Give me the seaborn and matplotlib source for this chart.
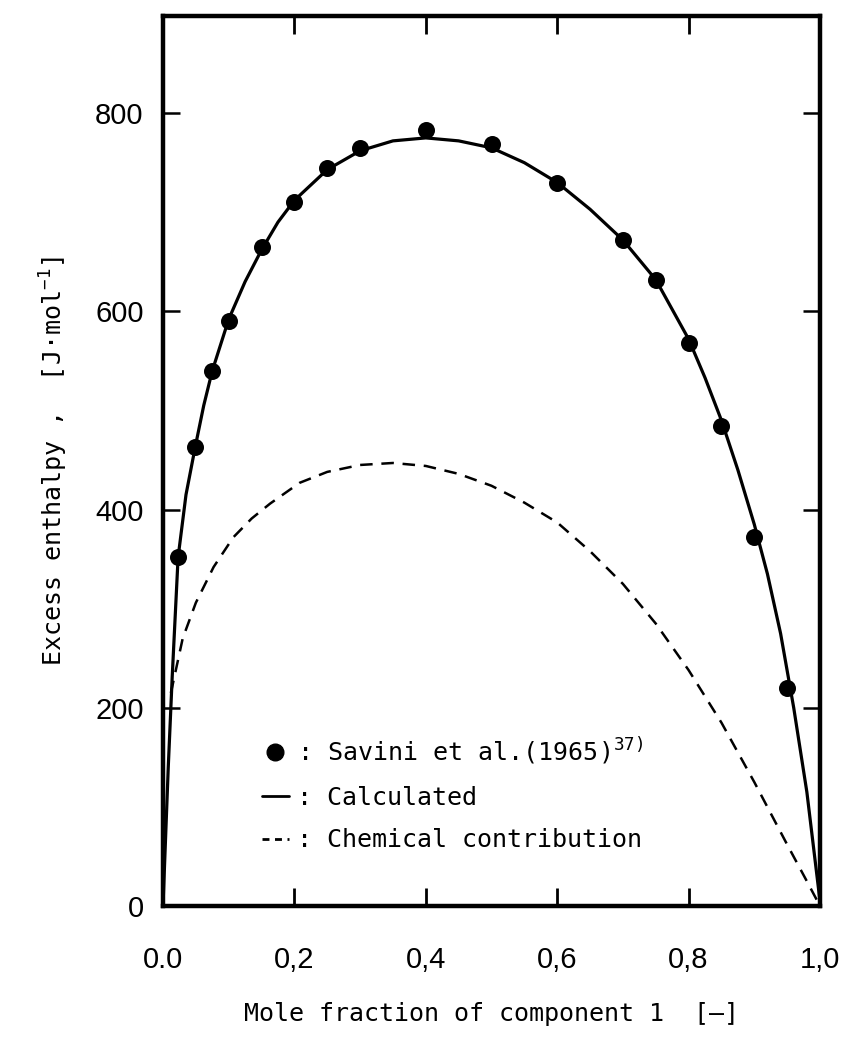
import matplotlib
matplotlib.use("Agg")
import matplotlib.pyplot as plt
import seaborn as sns
import pandas as pd
from matplotlib.lines import Line2D

# Experimental points (Savini et al., 1965)
exp_x = [0.023, 0.049, 0.075, 0.10, 0.15, 0.20, 0.25, 0.30, 0.40, 0.50,
         0.60, 0.70, 0.75, 0.80, 0.85, 0.90, 0.95]
exp_h = [352, 463, 540, 590, 665, 710, 745, 765, 783, 769,
         730, 672, 632, 568, 484, 372, 220]

# Calculated curve
calc_x = [0.0, 0.004, 0.008, 0.014, 0.023, 0.035, 0.049, 0.062, 0.075, 0.10,
          0.125, 0.15, 0.175, 0.20, 0.25, 0.30, 0.35, 0.40, 0.45, 0.50,
          0.55, 0.60, 0.65, 0.70, 0.75, 0.80, 0.825, 0.85, 0.875, 0.90,
          0.92, 0.94, 0.96, 0.98, 0.99, 1.0]
calc_h = [0, 70, 140, 231, 352, 415, 463, 505, 540, 592,
          630, 662, 690, 712, 743, 762, 772, 775, 772, 765,
          750, 730, 703, 672, 632, 572, 533, 490, 440, 385,
          335, 275, 200, 115, 60, 5]

# Chemical contribution curve
chem_x = [0.012, 0.03, 0.05, 0.077, 0.107, 0.135, 0.163, 0.208, 0.25, 0.30,
          0.35, 0.40, 0.45, 0.50, 0.55, 0.60, 0.65, 0.70, 0.75, 0.80,
          0.85, 0.90, 0.95, 0.98, 1.0]
chem_h = [215, 270, 306, 342, 372, 391, 406, 427, 438, 445,
          447, 444, 436, 424, 407, 387, 358, 325, 285, 238,
          185, 125, 62, 25, 0]

xtick_vals = [0.0, 0.2, 0.4, 0.6, 0.8, 1.0]
xtick_labels = ["0.0", "0,2", "0,4", "0,6", "0,8", "1,0"]
ytick_vals = [0, 200, 400, 600, 800]
ytick_labels = ["0", "200", "400", "600", "800"]

sns.set_style("ticks")
plt.rcParams['font.family'] = ['DejaVu Sans Mono', 'DejaVu Sans']
plt.rcParams['mathtext.fontset'] = 'custom'
plt.rcParams['mathtext.rm'] = 'DejaVu Sans Mono'
plt.rcParams['mathtext.default'] = 'rm'
for k in ['text.color', 'axes.labelcolor', 'xtick.color', 'ytick.color', 'axes.edgecolor']:
    plt.rcParams[k] = 'black'

fig = plt.figure(figsize=(8.43, 10.43), dpi=100)
ax = fig.add_axes([163/843, 1 - 906/1043, (820-163)/843, (906-16)/1043])

df_exp = pd.DataFrame({"x": exp_x, "h": exp_h})
df_calc = pd.DataFrame({"x": calc_x, "h": calc_h})
df_chem = pd.DataFrame({"x": chem_x, "h": chem_h})

sns.lineplot(data=df_calc, x="x", y="h", ax=ax, color="black", lw=2.3,
             sort=False, estimator=None)
sns.lineplot(data=df_chem, x="x", y="h", ax=ax, color="black", lw=1.8,
             sort=False, estimator=None)
ax.lines[-1].set_linestyle((0, (5, 3.5)))
sns.scatterplot(data=df_exp, x="x", y="h", ax=ax, color="black", s=150,
                edgecolor="black", linewidth=0, zorder=5)

tick_font = ['Liberation Sans', 'DejaVu Sans']
ax.set_xlim(0, 1.0)
ax.set_ylim(0, 898)
ax.set_xticks(xtick_vals)
ax.set_xticklabels(xtick_labels, family=tick_font, fontsize=21)
ax.set_yticks(ytick_vals)
ax.set_yticklabels(ytick_labels, family=tick_font, fontsize=21)
ax.tick_params(axis='x', direction='in', length=13, width=2.0, pad=29,
               top=True, bottom=True, colors='black')
ax.tick_params(axis='y', direction='in', length=12, width=1.8, pad=14,
               left=True, right=True, colors='black')
for sp in ax.spines.values():
    sp.set_linewidth(3.2)
    sp.set_color("black")
    sp.set_visible(True)

ax.set_xlabel("Mole fraction of component 1  [\u2014]", fontsize=18, labelpad=20)
ax.set_ylabel("Excess enthalpy ,  [J\u00b7mol$^{-1}$]", fontsize=18, labelpad=18)

handles = [
    Line2D([], [], marker='o', ls='none', ms=12, color='black'),
    Line2D([], [], color='black', lw=2),
    Line2D([], [], color='black', lw=2, ls=(0, (2.5, 2))),
]
labels = [": Savini et al.(1965)$^{37)}$", ": Calculated", ": Chemical contribution"]
ax.legend(handles, labels, loc='center left', bbox_to_anchor=(0.15, 0.126),
          frameon=False, fontsize=18, handlelength=1.1, handletextpad=0.3,
          labelspacing=0.75, borderaxespad=0, borderpad=0)

fig.savefig("out.png", dpi=100)
